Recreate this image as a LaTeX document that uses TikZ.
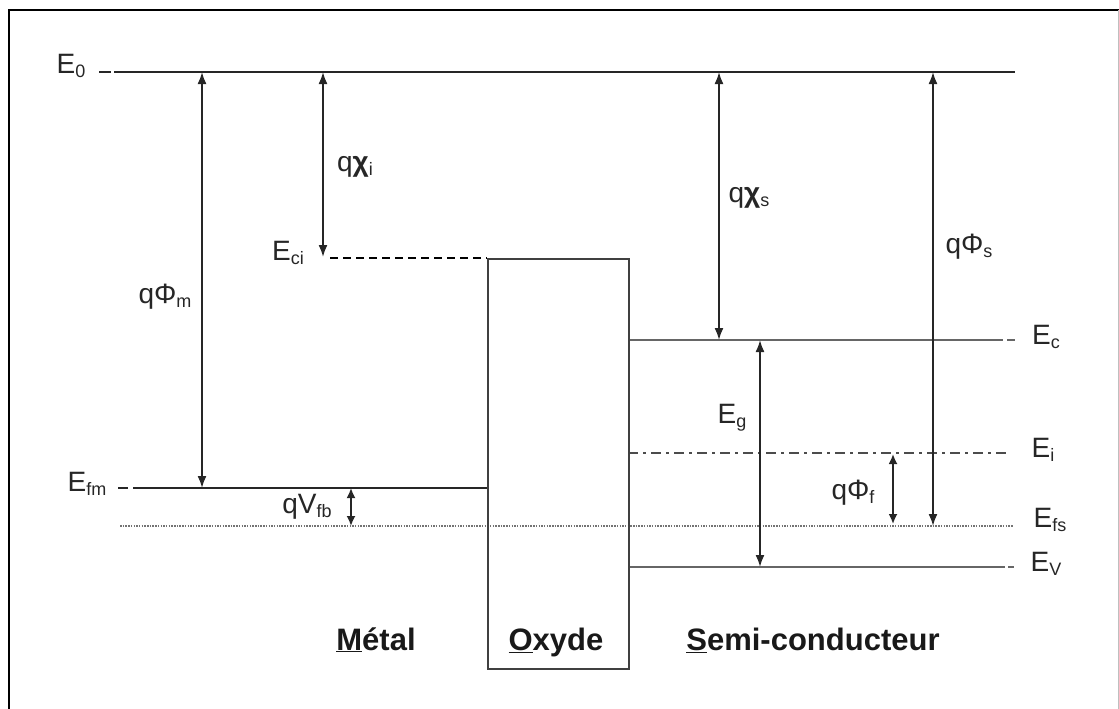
\documentclass[tikz,border=0pt]{standalone}
\usepackage{fontspec}
\setmainfont{Liberation Sans}
\usetikzlibrary{arrows.meta}
\newcommand\lsub[1]{\raisebox{-4pt}{\fontsize{18}{18}\selectfont #1}}
\newcommand\ul[1]{\underline{#1}}
\tikzset{
  lvl/.style={line width=2pt, draw=black!85},
  grylvl/.style={line width=2.4pt, draw=black!60},
  dashlvl/.style={line width=2pt, dash pattern=on 8pt off 5pt},
  dotlvl/.style={line width=2.2pt, draw=black!55, dash pattern=on 1.5pt off 1.2pt},
  dotdashlvl/.style={line width=2.2pt, draw=black!70, dash pattern=on 10pt off 5pt on 3pt off 5pt},
  dimarrow/.style={line width=1.8pt, draw=black!85, {Latex[length=12pt,width=9pt]}-{Latex[length=12pt,width=9pt]}},
  lbl/.style={inner sep=0pt, font=\fontsize{28}{28}\selectfont, text=black!85},
  bold/.style={inner sep=0pt, font=\fontsize{31}{31}\selectfont\bfseries, text=black!90, anchor=base},
}
\begin{document}
\begin{tikzpicture}[x=1pt,y=-1pt]
\useasboundingbox (0,0) rectangle (1119,709);
% frame
\draw[line width=2.5pt] (9,712) -- (9,10) -- (1122,10);
\draw[line width=1pt, black!25] (1118,10) -- (1118,712);

% level coordinates
\coordinate (E0a) at (114,72);   \coordinate (E0b) at (1015,72);
\coordinate (Efma) at (133,488); \coordinate (Efmb) at (487,488);
\coordinate (Efsa) at (120,526); \coordinate (Efsb) at (1013,526);
\coordinate (Ecia) at (330,258); \coordinate (Ecib) at (487,258);
\coordinate (Eca) at (628,340);  \coordinate (Ecb) at (1003,340);
\coordinate (Eia) at (628,453);  \coordinate (Eib) at (1010,453);
\coordinate (Eva) at (628,567);  \coordinate (Evb) at (1005,567);

% levels
\draw[lvl] (E0a) -- (E0b);
\draw[lvl] (99,72) -- (111,72);
\draw[lvl] (Efma) -- (Efmb);
\draw[lvl] (118,488) -- (128,488);
\draw[dotlvl] (Efsa) -- (Efsb);
\draw[dashlvl] (Ecia) -- (Ecib);
\draw[grylvl] (Eca) -- (Ecb);
\draw[grylvl] (1007,340) -- (1015,340);
\draw[dotdashlvl] (Eia) -- (Eib);
\draw[grylvl] (Eva) -- (Evb);
\draw[grylvl] (1008,567) -- (1014,567);

% oxide box
\node[draw=black!75, line width=2pt, minimum width=141pt, minimum height=410pt, inner sep=0pt, anchor=north west] (ox) at (487,258) {};

% level labels
\node[lbl] (lE0) at (71,66) {E\lsub{0}};
\node[lbl] (lEfm) at (87,484) {E\lsub{fm}};
\node[lbl] (lEci) at (288,253) {E\lsub{ci}};
\node[lbl] (lEc) at (1046,337) {E\lsub{c}};
\node[lbl] (lEi) at (1043,450) {E\lsub{i}};
\node[lbl] (lEfs) at (1050,520) {E\lsub{fs}};
\node[lbl] (lEv) at (1046,564) {E\lsub{V}};

% arrow coordinates
\coordinate (mT) at (202,72);  \coordinate (mB) at (202,488);
\coordinate (ciT) at (323,72); \coordinate (ciB) at (323,257);
\coordinate (csT) at (719,72); \coordinate (csB) at (719,340);
\coordinate (sT) at (933,72);  \coordinate (sB) at (933,526);
\coordinate (gT) at (760,340); \coordinate (gB) at (760,567);
\coordinate (fT) at (893,454); \coordinate (fB) at (893,524);
\coordinate (vT) at (351,488); \coordinate (vB) at (351,526);

\draw[dimarrow] (mT) -- (mB);
\draw[dimarrow] (ciT) -- (ciB);
\draw[dimarrow] (csT) -- (csB);
\draw[dimarrow] (sT) -- (sB);
\draw[dimarrow] (gT) -- (gB);
\draw[dimarrow, {Latex[length=10pt,width=9pt]}-{Latex[length=10pt,width=9pt]}] (fT) -- (fB);
\draw[dimarrow, {Latex[length=10pt,width=9pt]}-{Latex[length=10pt,width=9pt]}] (vT) -- (vB);

% arrow labels
\node[lbl] (lqm) at (165,297) {qΦ\lsub{m}};
\node[lbl] (lqci) at (355,167) {q{\bfseries χ}\lsub{i}};
\node[lbl] (lqcs) at (749,198) {q{\bfseries χ}\lsub{s}};
\node[lbl] (lqs) at (969,247) {qΦ\lsub{s}};
\node[lbl] (lEg) at (732,418) {E\lsub{g}};
\node[lbl] (lqf) at (853,493) {qΦ\lsub{f}};
\node[lbl] (lqv) at (307,507) {qV\lsub{fb}};

% region labels
\node[bold] (met) at (376,650) {\ul{M}étal};
\node[bold] (oxy) at (556,650) {\ul{O}xyde};
\node[bold] (sem) at (813,650) {\ul{S}emi-conducteur};
\end{tikzpicture}
\end{document}
